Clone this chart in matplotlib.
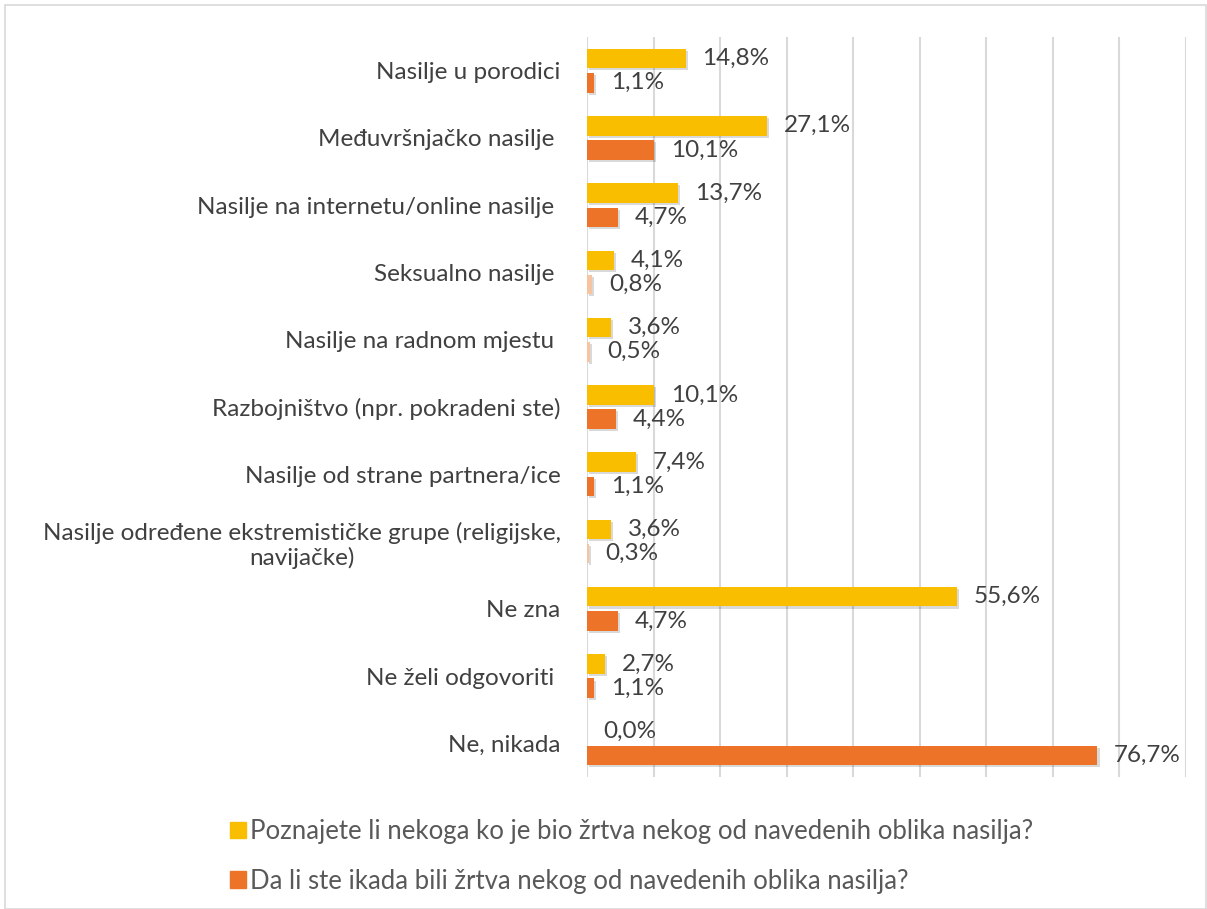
import matplotlib
matplotlib.use("Agg")
import matplotlib.pyplot as plt
import matplotlib.patheffects as pe
from matplotlib.patches import Rectangle
import numpy as np

categories = [
    "Nasilje u porodici",
    "Međuvršnjačko nasilje ",
    "Nasilje na internetu/online nasilje ",
    "Seksualno nasilje ",
    "Nasilje na radnom mjestu ",
    "Razbojništvo (npr. pokradeni ste)",
    "Nasilje od strane partnera/ice",
    "Nasilje određene ekstremističke grupe (religijske,\nnavijačke)",
    "Ne zna",
    "Ne želi odgovoriti ",
    "Ne, nikada",
]
series_known = [14.8, 27.1, 13.7, 4.1, 3.6, 10.1, 7.4, 3.6, 55.6, 2.7, 0.0]
series_victim = [1.1, 10.1, 4.7, 0.8, 0.5, 4.4, 1.1, 0.3, 4.7, 1.1, 76.7]
legend_labels = [
    "Poznajete li nekoga ko je bio žrtva nekog od navedenih oblika nasilja?",
    "Da li ste ikada bili žrtva nekog od navedenih oblika nasilja?",
]

YELLOW = "#F9BE00"
ORANGE = "#EC7328"
PALE_ORANGE = "#F7C4A2"
TXT = "#404040"

plt.rcParams["font.family"] = ["Lato", "DejaVu Sans"]

fig = plt.figure(figsize=(12.07, 9.09), dpi=100)
fig.patches.append(Rectangle((0.004, 0.0), 0.995, 0.995, transform=fig.transFigure,
                             fill=False, edgecolor="#D9D9D9", linewidth=1.2))
ax = fig.add_axes([587 / 1207, 1 - 777 / 909, (1186 - 587) / 1207, (777 - 37) / 909])

y = np.arange(len(categories))
h = 0.29
off = 0.18
shadow = [pe.SimplePatchShadow(offset=(1.5, -1.5), shadow_rgbFace="#000000", alpha=0.15), pe.Normal()]

victim_colors = [PALE_ORANGE if v < 1 else ORANGE for v in series_victim]
b1 = ax.barh(y - off, series_known, height=h, color=YELLOW, path_effects=shadow, zorder=3)
b2 = ax.barh(y + off, series_victim, height=h, color=victim_colors, path_effects=shadow, zorder=3)

for bars, vals in ((b1, series_known), (b2, series_victim)):
    for rect, v in zip(bars, vals):
        ax.annotate(f"{v:.1f}%".replace(".", ","), (v, rect.get_y() + rect.get_height() / 2),
                    xytext=(12, 0), textcoords="offset points", va="center", ha="left",
                    fontsize=17.5, color=TXT)

ax.set_xlim(0, 90)
ax.set_xticks(np.arange(0, 91, 10))
ax.set_xticklabels([])
ax.tick_params(axis="x", length=0)
ax.tick_params(axis="y", length=0, pad=19)
ax.set_yticks(y)
ax.set_yticklabels(categories, fontsize=17.5, color=TXT, multialignment="center")
ax.set_ylim(len(categories) - 0.5, -0.5)
ax.grid(axis="x", color="#D9D9D9", linewidth=1.5, zorder=0)
ax.set_axisbelow(True)
for s in ax.spines.values():
    s.set_visible(False)

handles = [Rectangle((0, 0), 1, 1, color=YELLOW), Rectangle((0, 0), 1, 1, color=ORANGE)]
fig.legend(handles, legend_labels, loc="upper left", bbox_to_anchor=(220 / 1207, 1 - 809 / 909),
           frameon=False, fontsize=18.5, labelcolor="#595959", handlelength=0.6, handleheight=0.6,
           handletextpad=0.15, labelspacing=0.95, borderaxespad=0)

fig.savefig("out.png", dpi=100, facecolor="white")
